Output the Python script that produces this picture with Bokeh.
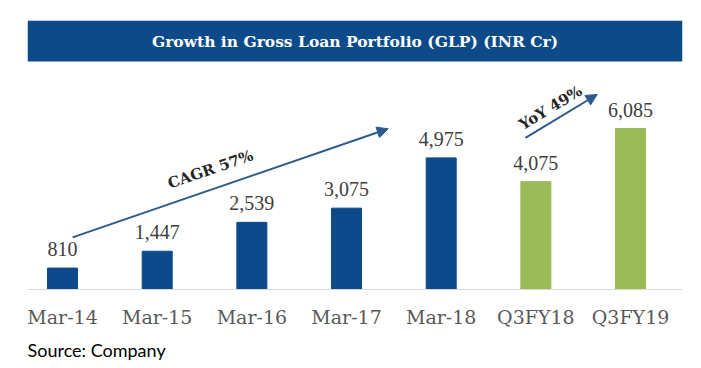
from bokeh.plotting import figure
from bokeh.models import (ColumnDataSource, Range1d, FixedTicker, Label, Arrow,
                          NormalHead, BoxAnnotation, Title, LabelSet)
from bokeh.embed import file_html
from bokeh.resources import INLINE

# ---- data ----
categories = ["Mar-14", "Mar-15", "Mar-16", "Mar-17", "Mar-18", "Q3FY18", "Q3FY19"]
glp_values = [810, 1447, 2539, 3075, 4975, 4075, 6085]
bar_colors = ["#0d4a8b"] * 5 + ["#9bbb59"] * 2
value_labels = ["810", "1,447", "2,539", "3,075", "4,975", "4,075", "6,085"]

title_text = "Growth in Gross Loan Portfolio (GLP) (INR Cr)"
source_text = "Source: Company"

# annotation arrows (data coordinates: category index, value)
cagr_arrow = dict(x0=0.106, y0=1970, x1=3.44, y1=6075)
cagr_label = dict(x=1.563, y=4536, text="CAGR 57%", angle=19.0)
yoy_arrow = dict(x0=4.89, y0=5734, x1=5.648, y1=7371)
yoy_label = dict(x=5.155, y=6868, text="YoY 49%", angle=31.0)

# ---- layout constants ----
Y_END = 10168
BANNER_BOTTOM = 8618

xs = list(range(len(categories)))
src = ColumnDataSource(dict(x=xs, top=glp_values, color=bar_colors, label=value_labels))

p = figure(width=701, height=368, output_backend="svg", toolbar_location=None,
           x_range=Range1d(-0.370, 6.549), y_range=Range1d(0, Y_END),
           min_border_left=27, min_border_right=19, min_border_top=20, min_border_bottom=79)
p.outline_line_color = None
p.grid.grid_line_color = None
p.yaxis.visible = False
p.background_fill_color = "white"
p.border_fill_color = "white"

p.vbar(x="x", top="top", width=0.317, color="color", source=src)

p.add_layout(LabelSet(x="x", y="top", text="label", source=src, text_align="center",
                      text_baseline="alphabetic", y_offset=12,
                      text_font="DejaVu Serif", text_font_size="20px", text_color="#404040"))

ax = p.xaxis[0]
ax.ticker = FixedTicker(ticks=xs)
ax.major_label_overrides = {i: c for i, c in enumerate(categories)}
ax.major_tick_line_color = None
ax.minor_tick_line_color = None
ax.axis_line_color = "#d9d9d9"
ax.axis_line_width = 1
ax.major_label_standoff = 10
ax.major_label_text_font = "DejaVu Serif"
ax.major_label_text_font_size = "19px"
ax.major_label_text_color = "#595959"

# banner
p.add_layout(BoxAnnotation(bottom=BANNER_BOTTOM, top=Y_END, fill_color="#0c4a8a",
                           fill_alpha=1, line_color=None))
p.add_layout(Label(x=(p.x_range.start + p.x_range.end) / 2, y=(BANNER_BOTTOM + Y_END) / 2,
                   text=title_text, text_align="center", text_baseline="middle",
                   text_font="DejaVu Serif", text_font_style="bold", text_font_size="15.5px",
                   text_color="white"))

arrow_color = "#2b5a8c"
for a in (cagr_arrow, yoy_arrow):
    p.add_layout(Arrow(end=NormalHead(size=11, fill_color=arrow_color, line_color=arrow_color),
                       x_start=a["x0"], y_start=a["y0"], x_end=a["x1"], y_end=a["y1"],
                       line_color=arrow_color, line_width=2))
for l in (cagr_label, yoy_label):
    p.add_layout(Label(x=l["x"], y=l["y"], text=l["text"], angle=l["angle"], angle_units="deg",
                       text_align="center", text_baseline="middle",
                       text_font="DejaVu Serif", text_font_style="bold", text_font_size="15px",
                       text_color="#262626"))

p.add_layout(Title(text=source_text, align="left", text_font="Lato", text_font_size="18px",
                   text_font_style="normal", text_color="#000000", standoff=12), "below")

open("out.html", "w").write(file_html(p, INLINE))
